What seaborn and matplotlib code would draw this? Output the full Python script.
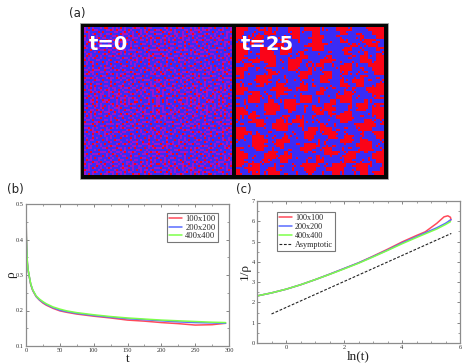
import numpy as np
import matplotlib
matplotlib.use("Agg")
import matplotlib.pyplot as plt
from matplotlib.colors import ListedColormap
from matplotlib.patches import Rectangle
import seaborn as sns

sns.set_style("white")
W, H = 468, 364
SERIF = "Liberation Serif"

# Panel (b)
t_vals = [0, 0.5, 1, 2, 3, 5, 7, 10, 15, 20, 25, 30, 40, 50, 60, 75, 100, 125, 150, 175, 200, 225, 250, 275, 295]
rho_100 = [.5, .41, .377, .335, .315, .293, .273, .256, .239, .229, .221, .215, .206, .199, .195, .19, .184, .179, .173, .17, .166, .163, .159, .16, .164]
rho_200 = [.5, .41, .377, .335, .315, .294, .274, .257, .24, .23, .223, .217, .208, .201, .197, .192, .186, .181, .177, .174, .171, .168, .166, .165, .164]
rho_400 = [.5, .41, .377, .335, .316, .295, .275, .258, .241, .232, .225, .219, .21, .204, .199, .194, .188, .183, .179, .176, .173, .171, .169, .167, .166]

# Panel (c)
lnt_100 = [-1, -.5, 0, .5, 1, 1.5, 2, 2.5, 3, 3.5, 4, 4.5, 4.8, 5.2, 5.45, 5.58, 5.67, 5.69, 5.62]
inv_100 = [2.32, 2.47, 2.65, 2.87, 3.12, 3.39, 3.67, 3.95, 4.28, 4.62, 4.98, 5.3, 5.48, 5.9, 6.22, 6.27, 6.2, 6.08, 6.0]
lnt_200 = [-1, -.5, 0, .5, 1, 1.5, 2, 2.5, 3, 3.5, 4, 4.5, 4.8, 5.2, 5.5, 5.69]
inv_200 = [2.32, 2.47, 2.65, 2.87, 3.12, 3.39, 3.67, 3.95, 4.26, 4.58, 4.93, 5.24, 5.43, 5.68, 5.9, 6.08]
lnt_400 = [-1, -.5, 0, .5, 1, 1.5, 2, 2.5, 3, 3.5, 4, 4.5, 4.8, 5.2, 5.5, 5.67]
inv_400 = [2.32, 2.47, 2.65, 2.87, 3.12, 3.38, 3.65, 3.93, 4.24, 4.56, 4.89, 5.2, 5.38, 5.62, 5.84, 5.98]
lnt_asym = [-.5, 5.7]
inv_asym = [1.43, 5.4]

size_labels = ["100x100", "200x200", "400x400"]
asym_label = "Asymptotic"

# Panel (a), lattice: # red, . blue, : mixed
t0_tile = [
    "bbrbpbbbpbrrbbpbbbrbpbbbbrbpbbrbbpbbb",
    "pbbbrbpbbbbpbrbbrpbbbbrpbbbbpbbbrbbrp",
    "brpbbbbrbrbbbbbpbbbprbbbpbrbbbprbbpbb",
    "bbbbprbbpbbpbrbbbbrbbpbbbbbrpbbbbbbrb",
    "rbpbbbbbbbrbbbpbrbbpbbbrpbbbbbrbpbbbb",
    "bbbrbbprbpbbbpbbbbbbbrbbbbpbrbbbbrpbr",
    "pbbbbpbbbbbrbbbrpbrbbbpbrbbbbpbrbbbbb",
    "bbrpbbbrbbpbbrbbbbbpbbbbbrpbbbbbbpbrb",
    "brbbbrbbpbbbbbpbbrbbbrbpbbbbrbpbbbbbp",
    "bbbpbbbbbrbpbrbbpbbprbbbbbpbbbbbrbpbb",
    "rpbbbrpbbbbbbbbrbbbbbbbrbbbrbrpbbbbbr",
    "bbbrbbbbpbrbbpbbbrbpbbpbbpbbbbbbrbpbb",
    "pbbbbpbrbbbbrbbpbbbbrbbbbbrbpbbrbbbbb",
    "bbrbbbbbbprbbbbbbrpbbbprbbbbbbpbbbrbp",
    "brbpbbrbbbbbpbrbbbbbbbbbbpbrbbbbprbbb",
    "bbbbbrbbpbrbbbbbpbbrbpbrbbbbbprbbbbrb",
    "rbpbbbbpbbbbbrbbbbpbbbbbbrpbbbbbrbpbb",
    "bbbrpbbbbrbpbbbprbbbbrbpbbbbrbbbbbbbp",
    "bpbbbbrbbbbbbrbbbbrbbbbbbpbbbbpbrbbbb",
    "rbbbrbbbpbrbbbbpbbbpbrbbbbbrbbbbbpbrb",
    "bbpbbbbrbbbbpbrbbbbbbbbprbbbbprbbbbbb",
    "pbbbrpbbbbrbbbbbrpbrbbbbbbrbbbbbrbpbr",
    "bbrbbbbbpbbbpbbbbbbbbpbrbbbbpbrbbbbbb",
    "brbbpbrbbbbrbbrbpbbbrbbbbrpbbbbbbpbrb",
    "bbbbbbbbrpbbbbbbbbrbbbpbbbbbbrbpbbbbp",
    "rpbrbbpbbbbbrpbbrbbbpbbbrbbpbbbbbrbbb",
    "bbbbbrbbbrbbbbbbbbpbbbrbbpbbbrbbpbbrb",
    "bpbbpbbbbbbpbrbbpbbbrbbbbbbrbbbbbbbbp",
    "rbbrbbbprbbbbbbrbbbbbbpbrbbbbpbrbpbbb",
    "bbbbbrbbbbpbbrbbbbprbbbbbbpbbbbbbbbrb",
    "bpbrbbbbrbbbbbbpbbbbbbrbpbbbrbpbrbbbb",
    "rbbbbpbbbbbrpbbbbrbpbbbbbbrbbbbbbbpbr",
    "bbbrbbbrbpbbbbrbbbbbbprbbbbbpbrbbbbbb",
    "pbbbbrbbbbbbpbbbprbbbbbbrpbbbbbbrbpbb",
    "bbrpbbbbpbrbbbrbbbbbrbbbbbbrbpbbbbbbr",
    "brbbbbrbbbbbbbbbrbpbbbpbrbbbbbbrpbbbb",
    "bbbprbbbbrpbrbbbbbbbrbbbbbpbrbbbbbrbp",
]
t25_rows = [
    "###..:::#.:..###.####::..###:...:####",
    "##..::.##:...:##:..##.....#:..::..###",
    "#:.::##.:.:.:.##..:###...::...:#..:##",
    ":..:##:....:#:.:..:##:.:..#:...:##::.",
    "##:::.:..:##.....:####:.....:#:.:##:.",
    "###...##:..###...:.###....:##..:...#:",
    "###:.:###:.##:.:#...:..:...#:.:.#..::",
    "##:..:####...:.:##....:#....::.##:.##",
    "#:.:##:###.:.###:.:..###:.:..:.###:##",
    ".:##:..:##...###.:.:##:.:.:##.:..####",
    "###..:.::..:.##:..#:.:...:###..:..###",
    "##.:...:##:....:###..:##..:#:.:.:.:##",
    ":#...####...:..:##...###..:..:.#:..:.",
    ".:..:###:.:.:.:.:..:.##:..#:.###.:..:",
    "#:.:.:#:..##:...#:.:...:..##:.##..:##",
    "###.....:####:.:##...#:.:..:.:..:####",
    "##.:##.:..##:...:...##...:.##:...:###",
    ":..###:.:.:...:.##:.:..:.####.:...:#:",
    "..:##:..#:.:###:###.:..:#.###:..#:...",
    ":.:..:.###:.###:.:.:..##:...:.###.:#:",
    "##:....####.:##..:.##:###...:.:#:.###",
    "###:#..:##...:...:.:##.#:.:##....:###",
    "#:.##:.:...:#:.#:..:...:.####:.:..:##",
    ":..:###...##:.###:.::..:..##:...##:.:",
    ".:...##:.####:.:#:...#:.:....:#####.:",
    "##:....:.:###...:.##:###.:.:..:###...",
    "###:.:..:...:.:..###.:###:.:...:..:##",
    "##..###:.:.:#:.:.##:...##:.##:.:...##",
    ":.:.####.:###:.:..:.:.:...###:.##:..:",
    "...:###:.:##...:.###:.:.:..:..####.:.",
    "#:..:##..:.:.:..###:.:##..:.:.:###:.:",
    "##:....:##:.#:...:.:..###:.:##:.:.:##",
    "###.:..###:###.:..:.#:.:..:###...:###",
    "##:.:.:#:..##....:..##....:##:.:.:.##",
    "#:.:##:..:.:..:.:###:.:.###:.:###:..:",
    ":.:###.:##.:..:..###..:####..:###...#",
    "#:.:#:.:###.:..:.:#:.:..##:..:.##.:##",
]
panel_titles = ["t=0", "t=25"]
panel_tags = ["(a)", "(b)", "(c)"]

fig = plt.figure(figsize=(W / 100, H / 100), dpi=100)
fig.patch.set_facecolor("white")


def box(x0, y0, x1, y1):
    return [x0 / W, 1 - y1 / H, (x1 - x0) / W, (y1 - y0) / H]


fig.add_artist(Rectangle((79.5 / W, 1 - 178.5 / H), 308.5 / W, 155 / H, transform=fig.transFigure,
                         facecolor="#050505", edgecolor="#aaaaaa", lw=0.6, zorder=-1))

lat_cmap = ListedColormap(["#3a2cf5", "#a014c8", "#fa0418"])
t0_map = {"b": 0, "p": 1, "r": 2}
t25_map = {".": 0, ":": 1, "#": 2}
t0_base = np.array([[t0_map[c] for c in row] for row in t0_tile])
t0_fine = np.block([[t0_base, t0_base[::-1]], [t0_base[:, ::-1], t0_base[::-1, ::-1]]])
# denser speckle: any marked cell of the mirrored lattice turns a blue cell purple
t0_grid = np.maximum(t0_fine, (t0_fine[::-1, :] > 0).astype(int))
t25_coarse = np.kron(np.array([[t25_map[c] for c in row] for row in t25_rows]), np.ones((2, 2), dtype=int))
# mixed cells take their fine speckle from the t=0 lattice
t25_grid = np.where(t25_coarse == 1, np.where(t0_grid[:, ::-1] > 0, 2, 0), t25_coarse)

for grid, bx, label in [(t0_grid, (84, 27, 232, 175), panel_titles[0]),
                        (t25_grid, (236, 27, 384, 175), panel_titles[1])]:
    a = fig.add_axes(box(*bx))
    sns.heatmap(grid, ax=a, cmap=lat_cmap, vmin=0, vmax=2, cbar=False,
                xticklabels=False, yticklabels=False, rasterized=True)
    a.text(0.035, 0.945, label, transform=a.transAxes, color="white", fontsize=14,
           fontweight="bold", va="top", ha="left", family="DejaVu Sans")

FRAME = "#8c8c8c"


def style(ax, xlim, ylim, xt, yt, xminor, yminor, xl, yl, fmt_x, fmt_y, xlp, ylp):
    ax.set_xlim(*xlim)
    ax.set_ylim(*ylim)
    ax.set_xticks(xt)
    ax.set_yticks(yt)
    ax.set_xticklabels([fmt_x(v) for v in xt], family=SERIF, fontsize=4.6, color="#333333")
    ax.set_yticklabels([fmt_y(v) for v in yt], family=SERIF, fontsize=4.6, color="#333333")
    ax.set_xticks(xminor, minor=True)
    ax.set_yticks(yminor, minor=True)
    ax.tick_params(which="major", direction="in", length=2.5, width=0.5, color="#555555", pad=1.5,
                   top=True, right=True, bottom=True, left=True)
    ax.tick_params(which="minor", direction="in", length=1.3, width=0.4, color="#555555",
                   top=True, right=True, bottom=True, left=True)
    for s in ax.spines.values():
        s.set_color(FRAME)
        s.set_linewidth(0.9)
    ax.set_xlabel(xl, family=SERIF, fontsize=9.5, labelpad=xlp, color="#222222")
    ax.set_ylabel(yl, family=SERIF, fontsize=9.5, labelpad=ylp, color="#222222")
    ax.grid(False)


RED, BLUE, GREEN = "#ff4a5a", "#5a6cff", "#7dff4a"
LW = 1.1

axb = fig.add_axes(box(26, 204, 229, 346))
for y, c, l in zip([rho_100, rho_200, rho_400], [RED, BLUE, GREEN], size_labels):
    sns.lineplot(x=t_vals, y=y, ax=axb, color=c, lw=LW, label=l, errorbar=None, estimator=None, sort=False)
style(axb, (0, 300), (0.1, 0.5), [0, 50, 100, 150, 200, 250, 300], [.1, .2, .3, .4, .5],
      [25, 75, 125, 175, 225, 275], [.15, .25, .35, .45], "t", "ρ",
      lambda v: f"{v:d}", lambda v: f"{v:.1f}", 0.2, -1)
legb = axb.legend(loc="upper left", bbox_to_anchor=(0.695, 0.935), borderaxespad=0, fancybox=False, framealpha=1,
                  edgecolor="#777777", prop={"family": SERIF, "size": 6.1}, labelspacing=0.05,
                  handlelength=1.5, handletextpad=0.4, borderpad=0.25)
legb.get_frame().set_linewidth(0.8)

axc = fig.add_axes(box(257, 201, 460, 343))
for x, y, c, l in zip([lnt_100, lnt_200, lnt_400], [inv_100, inv_200, inv_400], [RED, BLUE, GREEN], size_labels):
    sns.lineplot(x=x, y=y, ax=axc, color=c, lw=LW, label=l, errorbar=None, estimator=None, sort=False)
sns.lineplot(x=lnt_asym, y=inv_asym, ax=axc, color="#222222", lw=0.8, label=asym_label,
             linestyle=(0, (2.5, 1.5)), errorbar=None, estimator=None, sort=False)
style(axc, (-1, 6), (0, 7), [0, 2, 4, 6], [0, 1, 2, 3, 4, 5, 6, 7],
      [-.5, .5, 1, 1.5, 2.5, 3, 3.5, 4.5, 5, 5.5], [.5, 1.5, 2.5, 3.5, 4.5, 5.5, 6.5], "ln(t)", "1/ρ",
      lambda v: f"{v:d}", lambda v: f"{v:d}", 0.5, 0.5)
legc = axc.legend(loc="upper left", bbox_to_anchor=(0.1, 0.925), borderaxespad=0, fancybox=False, framealpha=1,
                  edgecolor="#777777", prop={"family": SERIF, "size": 5.9}, labelspacing=0.12,
                  handlelength=1.5, handletextpad=0.4, borderpad=0.25)
legc.get_frame().set_linewidth(0.8)

for tag, (x, y) in zip(panel_tags, [(69, 13), (7, 190), (236, 190)]):
    fig.text(x / W, 1 - y / H, tag, fontsize=8.5, family="DejaVu Sans", color="#222222", va="center", ha="left")

fig.savefig("out.png", dpi=100)
